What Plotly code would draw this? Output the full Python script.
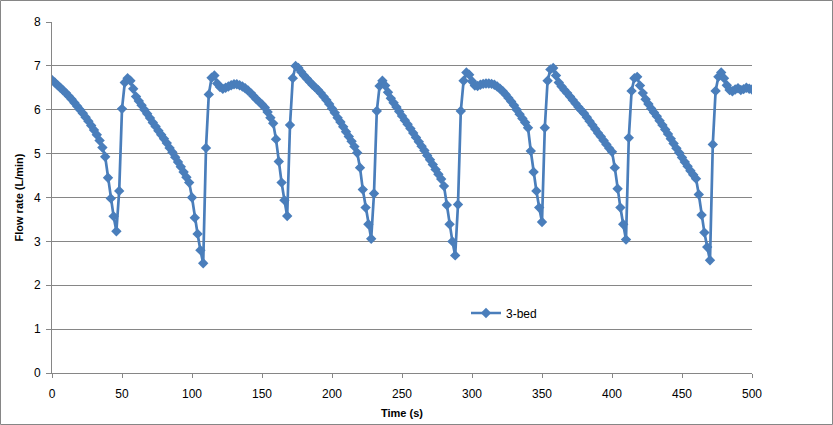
import plotly.graph_objects as go

time_s = [
    0, 2, 4, 6, 8, 10, 12, 14, 16, 18, 20, 22, 24, 26, 28, 30, 32, 34, 36, 38,
    40, 42, 44, 46, 48, 50, 52, 54, 56, 58, 60, 62, 64, 66, 68, 70, 72, 74, 76, 78,
    80, 82, 84, 86, 88, 90, 92, 94, 96, 98, 100, 102, 104, 106, 108, 110, 112, 114, 116, 118,
    120, 122, 124, 126, 128, 130, 132, 134, 136, 138, 140, 142, 144, 146, 148, 150, 152, 154, 156, 158,
    160, 162, 164, 166, 168, 170, 172, 174, 176, 178, 180, 182, 184, 186, 188, 190, 192, 194, 196, 198,
    200, 202, 204, 206, 208, 210, 212, 214, 216, 218, 220, 222, 224, 226, 228, 230, 232, 234, 236, 238,
    240, 242, 244, 246, 248, 250, 252, 254, 256, 258, 260, 262, 264, 266, 268, 270, 272, 274, 276, 278,
    280, 282, 284, 286, 288, 290, 292, 294, 296, 298, 300, 302, 304, 306, 308, 310, 312, 314, 316, 318,
    320, 322, 324, 326, 328, 330, 332, 334, 336, 338, 340, 342, 344, 346, 348, 350, 352, 354, 356, 358,
    360, 362, 364, 366, 368, 370, 372, 374, 376, 378, 380, 382, 384, 386, 388, 390, 392, 394, 396, 398,
    400, 402, 404, 406, 408, 410, 412, 414, 416, 418, 420, 422, 424, 426, 428, 430, 432, 434, 436, 438,
    440, 442, 444, 446, 448, 450, 452, 454, 456, 458, 460, 462, 464, 466, 468, 470, 472, 474, 476, 478,
    480, 482, 484, 486, 488, 490, 492, 494, 496, 498, 500,
]

flow_3bed = [
    6.68, 6.62, 6.56, 6.50, 6.44, 6.38, 6.31, 6.24, 6.16, 6.08, 6.00, 5.92, 5.83, 5.74, 5.64, 5.54, 5.43, 5.30, 5.14, 4.93,
    4.45, 3.98, 3.57, 3.23, 4.15, 6.02, 6.62, 6.72, 6.66, 6.48, 6.30, 6.20, 6.10, 6.00, 5.91, 5.81, 5.71, 5.62, 5.52, 5.43,
    5.34, 5.24, 5.13, 5.03, 4.92, 4.81, 4.70, 4.58, 4.46, 4.34, 4.00, 3.54, 3.17, 2.80, 2.50, 5.13, 6.35, 6.73, 6.78, 6.60,
    6.52, 6.48, 6.50, 6.53, 6.56, 6.58, 6.58, 6.56, 6.53, 6.49, 6.44, 6.38, 6.31, 6.24, 6.18, 6.12, 6.05, 5.95, 5.82, 5.69,
    5.33, 4.82, 4.34, 3.94, 3.58, 5.65, 6.72, 7.00, 6.95, 6.86, 6.78, 6.71, 6.64, 6.57, 6.51, 6.45, 6.38, 6.30, 6.22, 6.13,
    6.03, 5.93, 5.82, 5.72, 5.61, 5.50, 5.39, 5.28, 5.16, 5.02, 4.68, 4.18, 3.77, 3.39, 3.06, 4.09, 5.97, 6.54, 6.66, 6.55,
    6.40, 6.26, 6.16, 6.06, 5.96, 5.86, 5.76, 5.67, 5.57, 5.47, 5.37, 5.27, 5.17, 5.07, 4.96, 4.86, 4.75, 4.64, 4.53, 4.42,
    4.26, 3.83, 3.39, 3.00, 2.68, 3.84, 5.97, 6.66, 6.85, 6.80, 6.65, 6.55, 6.54, 6.57, 6.59, 6.60, 6.60, 6.59, 6.57, 6.53,
    6.48, 6.42, 6.35, 6.27, 6.19, 6.10, 6.00, 5.90, 5.80, 5.71, 5.59, 5.06, 4.58, 4.15, 3.77, 3.44, 5.59, 6.66, 6.92, 6.95,
    6.78, 6.62, 6.53, 6.45, 6.38, 6.30, 6.22, 6.14, 6.06, 5.99, 5.92, 5.83, 5.74, 5.65, 5.56, 5.47, 5.39, 5.30, 5.21, 5.12,
    5.04, 4.68, 4.20, 3.77, 3.39, 3.04, 5.36, 6.43, 6.72, 6.75, 6.55, 6.38, 6.24, 6.13, 6.03, 5.94, 5.85, 5.75, 5.65, 5.55,
    5.45, 5.34, 5.23, 5.12, 5.02, 4.91, 4.81, 4.71, 4.61, 4.52, 4.43, 4.07, 3.60, 3.20, 2.87, 2.57, 5.21, 6.43, 6.75, 6.85,
    6.72, 6.56, 6.45, 6.42, 6.46, 6.49, 6.45, 6.47, 6.50, 6.48, 6.46,
]

series_name = "3-bed"
x_title = "Time (s)"
y_title = "Flow rate (L/min)"
x_ticks = [0, 50, 100, 150, 200, 250, 300, 350, 400, 450, 500]
y_ticks = [0, 1, 2, 3, 4, 5, 6, 7, 8]

LINE = "#4A7EBB"
GRID = "#868686"
FONT = "Liberation Sans"

fig = go.Figure()
fig.add_trace(go.Scatter(
    x=time_s, y=flow_3bed, name=series_name, mode="lines+markers",
    line=dict(color=LINE, width=2.7),
    marker=dict(symbol="diamond", size=8, color=LINE, line=dict(width=0)),
))

L, R, T, B = 52, 81, 22, 52
W, H = 833, 425
pw, ph = W - L - R, H - T - B

fig.update_layout(
    width=W, height=H,
    margin=dict(l=L, r=R, t=T, b=B),
    paper_bgcolor="white", plot_bgcolor="white",
    font=dict(family=FONT, size=12, color="#000000"),
    showlegend=True,
    legend=dict(
        x=(466 - L) / pw, y=(H - B - 313) / ph, xanchor="left", yanchor="middle",
        bgcolor="rgba(0,0,0,0)", borderwidth=0, font=dict(size=12, family=FONT),
        itemwidth=30,
    ),
    xaxis=dict(
        range=[0, 500], tickvals=x_ticks, ticks="outside", ticklen=4,
        tickcolor=GRID, showgrid=False, zeroline=False,
        showline=True, linecolor=GRID, linewidth=1,
        tickfont=dict(size=12), ticklabelstandoff=6, automargin=False,
        title=dict(text="<b>" + x_title + "</b>", font=dict(size=11, family=FONT), standoff=8),
        fixedrange=True,
    ),
    yaxis=dict(
        range=[0, 8], tickvals=y_ticks, ticks="outside", ticklen=5,
        tickcolor=GRID, showgrid=True, gridcolor=GRID, gridwidth=1, zeroline=False,
        showline=True, linecolor=GRID, linewidth=1,
        tickfont=dict(size=12), ticklabelstandoff=3, automargin=False,
        title=dict(text="<b>" + y_title + "</b>", font=dict(size=11, family=FONT), standoff=8),
        fixedrange=True,
    ),
)

# Outer chart border
fig.add_shape(
    type="rect", xref="paper", yref="paper",
    x0=(0.5 - L) / pw, x1=(W - 0.5 - L) / pw,
    y0=(H - B - (H - 0.5)) / ph, y1=(H - B - 0.5) / ph,
    line=dict(color="#868686", width=1), fillcolor="rgba(0,0,0,0)", layer="below",
)

fig.write_html("out.html")
